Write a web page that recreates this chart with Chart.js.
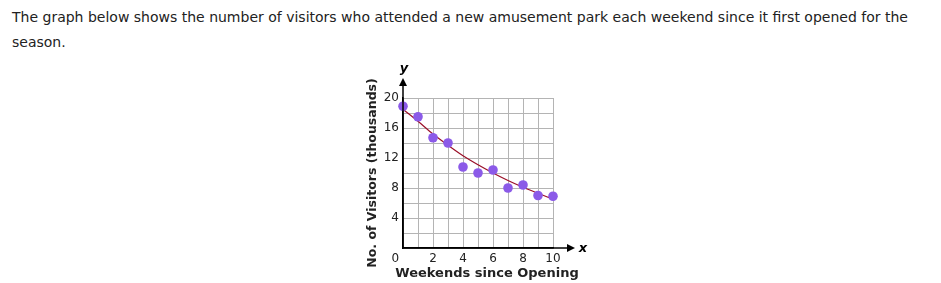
<!DOCTYPE html>
<html>
<head>
<meta charset="utf-8">
<script src="https://cdn.jsdelivr.net/npm/chart.js@4/dist/chart.umd.min.js"></script>
<style>
  html, body { margin: 0; padding: 0; background: #fff; width: 941px; height: 283px; overflow: hidden; }
  #intro { position: absolute; left: 12px; top: 5px; width: 925px; font-family: "DejaVu Sans", Verdana, sans-serif; font-size: 14px; line-height: 25px; color: #222; }
  #wrap { position: absolute; left: 0; top: 0; width: 941px; height: 283px; }
</style>
</head>
<body>
<div id="intro">The graph below shows the number of visitors who attended a new amusement park each weekend since it first opened for the season.</div>
<div id="wrap"><canvas id="c" width="941" height="283"></canvas></div>
<script>
// ---- data ----
const weeks    = [0, 1, 2, 3, 4, 5, 6, 7, 8, 9, 10];
const visitors = [18.9, 17.5, 14.7, 14.0, 10.8, 10.0, 10.4, 8.0, 8.4, 7.0, 6.9];
const trend    = [18.5, 16.9, 15.2, 13.7, 12.3, 11.1, 10.0, 9.0, 8.1, 7.3, 6.5];
const xTickLabels = {0: '0    ', 2: '2', 4: '4', 6: '6', 8: '8', 10: '10'};
const yTickLabels = {4: '4', 8: '8', 12: '12', 16: '16', 20: '20'};
const xTitle = 'Weekends since Opening';
const yTitle = 'No. of Visitors (thousands)';

const FONT = '"DejaVu Sans", Verdana, sans-serif';

const axisArrows = {
  id: 'axisArrows',
  afterDatasetsDraw(chart) {
    const ctx = chart.ctx;
    const xs = chart.scales.x, ys = chart.scales.y;
    const ox = xs.getPixelForValue(0), oy = ys.getPixelForValue(0);
    const topY = ys.getPixelForValue(20), rightX = xs.getPixelForValue(10);
    ctx.save();
    ctx.strokeStyle = '#000'; ctx.fillStyle = '#000'; ctx.lineWidth = 1.5;
    // y axis extension
    ctx.beginPath(); ctx.moveTo(ox, oy); ctx.lineTo(ox, topY - 12); ctx.stroke();
    ctx.beginPath(); ctx.moveTo(ox, topY - 20); ctx.lineTo(ox - 4, topY - 12); ctx.lineTo(ox + 4, topY - 12); ctx.closePath(); ctx.fill();
    // x axis extension
    ctx.beginPath(); ctx.moveTo(ox, oy); ctx.lineTo(rightX + 14, oy); ctx.stroke();
    ctx.beginPath(); ctx.moveTo(rightX + 22, oy); ctx.lineTo(rightX + 14, oy - 4); ctx.lineTo(rightX + 14, oy + 4); ctx.closePath(); ctx.fill();
    // axis letters
    ctx.font = 'italic bold 13px ' + FONT;
    ctx.textAlign = 'center'; ctx.textBaseline = 'middle';
    ctx.fillText('y', ox + 1, topY - 29);
    ctx.fillText('x', rightX + 30, oy + 1);
    // x axis title (drawn without width squeeze)
    ctx.fillStyle = '#222';
    ctx.font = 'bold 13px ' + FONT;
    ctx.fillText(xTitle, (ox + rightX) / 2 + 9, oy + 26);
    ctx.restore();
  }
};

new Chart(document.getElementById('c'), {
  type: 'scatter',
  data: {
    datasets: [
      {
        label: 'Visitors',
        data: weeks.map((w, i) => ({x: w, y: visitors[i]})),
        backgroundColor: '#8b5ae8',
        borderColor: '#8b5ae8',
        pointRadius: 4.8,
        pointBorderWidth: 0,
        showLine: false,
        clip: false,
        order: 1
      },
      {
        label: 'Trend',
        type: 'line',
        data: weeks.map((w, i) => ({x: w, y: trend[i]})),
        borderColor: '#9b1028',
        borderWidth: 1.2,
        pointRadius: 0,
        tension: 0.4,
        cubicInterpolationMode: 'monotone',
        fill: false,
        clip: false,
        order: 2
      }
    ]
  },
  options: {
    responsive: false,
    animation: false,
    devicePixelRatio: 1,
    layout: { padding: { left: 353, right: 388, top: 98, bottom: 0 } },
    plugins: { legend: { display: false }, tooltip: { enabled: false } },
    scales: {
      x: {
        type: 'linear', min: 0, max: 10,
        afterFit(s) { s.height = 35; },
        border: { display: true, color: '#000', width: 1.5 },
        grid: { color: '#b4b4b4', lineWidth: 1, drawTicks: false },
        ticks: {
          stepSize: 1, autoSkip: false, minRotation: 0, maxRotation: 0, padding: 4,
          color: '#222', font: { family: FONT, size: 12 },
          callback: v => (xTickLabels[v] !== undefined ? xTickLabels[v] : '')
        },
        title: { display: false }
      },
      y: {
        type: 'linear', min: 0, max: 20,
        afterFit(s) { s.width = 50; },
        border: { display: true, color: '#000', width: 1.5 },
        grid: { color: '#b4b4b4', lineWidth: 1, drawTicks: false },
        ticks: {
          stepSize: 2, autoSkip: false, minRotation: 0, maxRotation: 0, padding: 4,
          color: '#222', font: { family: FONT, size: 12 },
          callback: v => (yTickLabels[v] !== undefined ? yTickLabels[v] : '')
        },
        title: { display: true, text: yTitle, color: '#222', font: { family: FONT, size: 12.5, weight: 'bold' }, padding: { top: 12, bottom: 0 } }
      }
    }
  },
  plugins: [axisArrows]
});
</script>
</body>
</html>
